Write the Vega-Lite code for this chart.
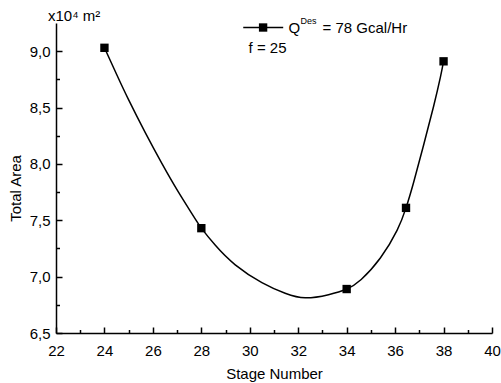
{
  "$schema": "https://vega.github.io/schema/vega-lite/v6.json",
  "autosize": "none",
  "width": 436,
  "height": 310,
  "padding": {"left": 56, "top": 23, "right": 9, "bottom": 50},
  "background": "white",
  "config": {
    "view": {"stroke": null},
    "font": "Liberation Sans",
    "axis": {
      "grid": false,
      "domainColor": "black",
      "domainWidth": 1.5,
      "tickColor": "black",
      "tickWidth": 1.5,
      "labelColor": "black",
      "labelFont": "Liberation Sans",
      "labelFontSize": 15,
      "titleFont": "Liberation Sans",
      "titleFontSize": 15,
      "titleFontWeight": "normal",
      "titleColor": "black"
    }
  },
  "datasets": {
    "points": [
      {"stage": 24, "area": 9.03},
      {"stage": 28, "area": 7.43},
      {"stage": 34, "area": 6.89},
      {"stage": 36.45, "area": 7.61},
      {"stage": 38, "area": 8.91}
    ],
    "curve": [
      {"stage": 24.0, "area": 9.03},
      {"stage": 24.5, "area": 8.795},
      {"stage": 24.99, "area": 8.572},
      {"stage": 25.68, "area": 8.28},
      {"stage": 26.37, "area": 8.005},
      {"stage": 27.05, "area": 7.752},
      {"stage": 27.74, "area": 7.515},
      {"stage": 28.0, "area": 7.43},
      {"stage": 28.57, "area": 7.28},
      {"stage": 29.40, "area": 7.105},
      {"stage": 30.50, "area": 6.947},
      {"stage": 31.46, "area": 6.853},
      {"stage": 32.29, "area": 6.812},
      {"stage": 33.25, "area": 6.84},
      {"stage": 34.0, "area": 6.89},
      {"stage": 34.6, "area": 6.975},
      {"stage": 35.39, "area": 7.165},
      {"stage": 36.08, "area": 7.41},
      {"stage": 36.45, "area": 7.61},
      {"stage": 36.76, "area": 7.833},
      {"stage": 37.18, "area": 8.17},
      {"stage": 37.59, "area": 8.512},
      {"stage": 37.87, "area": 8.77},
      {"stage": 38.0, "area": 8.91}
    ]
  },
  "resolve": {"axis": {"x": "independent", "y": "independent"}},
  "layer": [
    {
      "data": {"name": "curve"},
      "mark": {"type": "line", "color": "black", "strokeWidth": 1.5, "interpolate": "natural"},
      "encoding": {
        "x": {"field": "stage", "type": "quantitative", "scale": {"domain": [22, 40], "nice": false, "zero": false},
          "axis": {"orient": "bottom", "title": "Stage Number", "values": [22, 24, 26, 28, 30, 32, 34, 36, 38, 40], "tickSize": -6, "labelPadding": 16, "titlePadding": 8, "labelFlush": false}},
        "y": {"field": "area", "type": "quantitative", "scale": {"domain": [6.5, 9.25], "nice": false, "zero": false},
          "axis": {"orient": "left", "title": "Total Area", "values": [6.5, 7.0, 7.5, 8.0, 8.5, 9.0], "tickSize": -6, "labelPadding": 12, "titlePadding": 6, "titleY": 165,
            "labelExpr": "replace(format(datum.value, '.1f'), '.', ',')", "labelFlush": false}}
      }
    },
    {
      "data": {"name": "points"},
      "mark": {"type": "point", "shape": "square", "filled": true, "color": "black", "size": 70, "opacity": 1},
      "encoding": {
        "x": {"field": "stage", "type": "quantitative",
          "axis": {"orient": "bottom", "title": null, "values": [23, 25, 27, 29, 31, 33, 35, 37, 39], "tickSize": -3.5, "labels": false, "domain": false}},
        "y": {"field": "area", "type": "quantitative",
          "axis": {"orient": "left", "title": null, "values": [6.75, 7.25, 7.75, 8.25, 8.75], "tickSize": -3.5, "labels": false, "domain": false}}
      }
    },
    {
      "data": {"values": [{}]},
      "mark": {"type": "rule", "color": "black", "strokeWidth": 1.5},
      "encoding": {"x": {"datum": 29.73, "axis": null}, "x2": {"datum": 31.38}, "y": {"datum": 9.21, "axis": null}}
    },
    {
      "data": {"values": [{}]},
      "mark": {"type": "point", "shape": "square", "filled": true, "color": "black", "size": 70, "opacity": 1},
      "encoding": {"x": {"datum": 30.55, "axis": null}, "y": {"datum": 9.21, "axis": null}}
    },
    {
      "data": {"values": [{}]},
      "mark": {"type": "text", "text": "Q", "align": "left", "baseline": "middle", "fontSize": 15, "color": "black"},
      "encoding": {"x": {"datum": 31.6, "axis": null}, "y": {"datum": 9.21, "axis": null}}
    },
    {
      "data": {"values": [{}]},
      "mark": {"type": "text", "text": "Des", "align": "left", "baseline": "middle", "fontSize": 9, "color": "black", "dx": 12, "dy": -7},
      "encoding": {"x": {"datum": 31.6, "axis": null}, "y": {"datum": 9.21, "axis": null}}
    },
    {
      "data": {"values": [{}]},
      "mark": {"type": "text", "text": "= 78 Gcal/Hr", "align": "left", "baseline": "middle", "fontSize": 15, "color": "black", "dx": 34},
      "encoding": {"x": {"datum": 31.6, "axis": null}, "y": {"datum": 9.21, "axis": null}}
    },
    {
      "data": {"values": [{}]},
      "mark": {"type": "text", "text": "f = 25", "align": "left", "baseline": "middle", "fontSize": 15, "color": "black"},
      "encoding": {"x": {"datum": 29.95, "axis": null}, "y": {"datum": 9.03, "axis": null}}
    },
    {
      "data": {"values": [{}]},
      "mark": {"type": "text", "text": "x10⁴ m²", "align": "left", "baseline": "bottom", "fontSize": 15, "color": "black", "dx": -8, "dy": 1, "clip": false},
      "encoding": {"x": {"datum": 22, "axis": null}, "y": {"datum": 9.25, "axis": null}}
    }
  ]
}
